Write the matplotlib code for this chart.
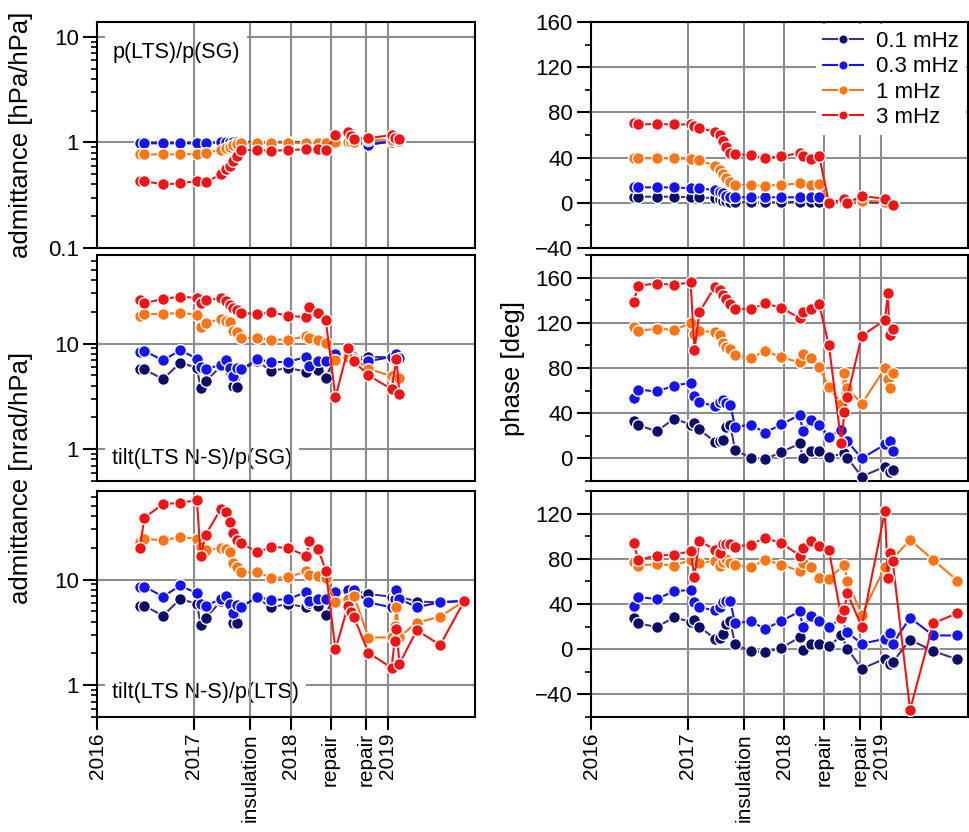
import numpy as np
import matplotlib
matplotlib.use('Agg')
import matplotlib.pyplot as plt
from matplotlib.ticker import FixedLocator, FuncFormatter, LogLocator, NullFormatter, MultipleLocator

plt.rcParams['font.family'] = ['Liberation Sans', 'DejaVu Sans']

nan = np.nan

# epochs (decimal years)
dates = [2016.44, 2016.49, 2016.68, 2016.86, 2017.03, 2017.07, 2017.12, 2017.28,
         2017.33, 2017.37, 2017.40, 2017.44, 2017.49, 2017.65, 2017.80, 2017.97,
         2018.16, 2018.19, 2018.28, 2018.36, 2018.46, 2018.59, 2018.62, 2018.65,
         2018.80, 2019.04, 2019.07, 2019.09, 2019.12, 2019.30, 2019.54, 2019.79]

# p(LTS)/p(SG) admittance
ps_amp_01 = [0.99, 0.99, 0.99, 0.99, 0.99, nan, 0.99, 1.0, 1.0, 1.0, 1.0, 1.0, 1.0, 1.0, 1.0, 1.0,
             1.0, nan, 1.0, 1.0, 1.0, 1.02, 1.02, 1.0, 0.96, 1.02, nan, nan, 1.02, nan, nan, nan]
ps_amp_03 = [0.98, 0.98, 0.98, 0.98, 0.98, nan, 0.99, 1.0, 1.0, 1.0, 1.01, 1.01, 1.0, 1.0, 1.0, 1.0,
             1.0, nan, 1.0, 1.0, 1.0, 1.02, 1.02, 1.0, 0.95, 1.02, nan, nan, 1.02, nan, nan, nan]
ps_amp_1 = [0.77, 0.77, 0.77, 0.77, 0.78, nan, 0.80, 0.85, 0.88, 0.91, 0.94, 0.97, 0.98, 0.99, 0.99, 0.99,
            0.99, nan, 0.99, 0.99, 1.0, 1.0, 1.0, 1.0, 1.05, 1.05, nan, nan, 1.03, nan, nan, nan]
ps_amp_3 = [0.43, 0.43, 0.40, 0.41, 0.43, nan, 0.42, 0.50, 0.56, 0.60, 0.66, 0.75, 0.84, 0.85, 0.83, 0.85,
            0.86, nan, 0.86, 0.85, 1.17, 1.25, 1.14, 1.08, 1.10, 1.17, 1.10, nan, 1.08, nan, nan, nan]

# tilt(LTS N-S)/p(SG) admittance
tg_amp_01 = [5.8, 5.7, 4.6, 6.6, 5.9, 3.8, 4.4, 6.1, 6.3, 5.5, 4.0, 3.9, 5.6, 6.8, 5.5, 5.9,
             5.4, 6.2, 5.6, 4.7, 7.8, 7.6, nan, 7.5, 7.5, 7.4, nan, 7.6, 7.5, nan, nan, nan]
tg_amp_03 = [8.4, 8.5, 6.95, 8.65, 7.2, 6.0, 5.7, 6.3, 6.95, 5.9, 4.9, 5.9, 5.7, 7.1, 6.7, 6.7,
             7.5, 6.2, 6.8, 6.8, 7.9, 7.6, nan, 7.4, 6.8, 7.5, nan, 8.0, 7.3, nan, nan, nan]
tg_amp_1 = [18.4, 19.1, 19.1, 19.5, 18.8, 14.3, 15.7, 17.1, 16.5, 15.9, 13.3, 12.8, 11.3, 11.3, 10.9, 10.9,
            11.7, 11.3, 10.9, 10.2, 6.95, 7.5, nan, 7.2, 5.8, 4.9, nan, 4.6, 4.7, nan, nan, nan]
tg_amp_3 = [25.6, 24.2, 26.4, 27.9, 27.0, 24.2, 25.6, 27.0, 25.5, 23.3, 21.7, 20.6, 19.5, 19.1, 19.7, 18.4,
            17.7, 22.2, 19.5, 16.8, 3.1, 9.0, nan, 6.8, 5.0, 3.7, nan, 7.2, 3.3, nan, nan, nan]

# tilt(LTS N-S)/p(LTS) admittance
tl_amp_01 = [5.65, 5.65, 4.55, 6.55, 5.9, 3.75, 4.3, 6.3, 6.5, 5.9, 3.9, 3.85, 5.65, 6.7, 5.45, 5.9,
             5.45, 6.0, 5.65, 4.65, 7.7, 8.0, nan, 7.9, 7.3, 6.9, 7.0, 7.5, 6.9, 6.2, 6.1, 6.3]
tl_amp_03 = [8.6, 8.6, 6.9, 8.8, 7.4, 5.9, 5.65, 6.55, 7.05, 5.9, 4.8, 5.8, 5.45, 6.9, 6.4, 6.55,
             7.6, 6.3, 6.55, 6.55, 7.6, 7.9, nan, 7.9, 6.1, 5.45, 6.5, 8.0, 6.55, 5.5, 6.1, 6.3]
tl_amp_1 = [22.6, 24.4, 23.5, 25.3, 24.4, 20.3, 18.9, 20.0, 19.5, 18.2, 14.3, 13.3, 11.7, 11.7, 10.4, 10.5,
            12.0, 11.0, 10.9, 10.4, 6.2, 6.55, nan, 7.05, 2.82, 2.85, 3.6, 5.45, 2.87, 3.92, 4.45, 6.3]
tl_amp_3 = [19.9, 38.7, 51.8, 53.4, 56.5, 16.9, 26.6, 47.1, 43.8, 35.2, 27.6, 23.5, 22.2, 18.2, 20.3, 20.1,
            16.6, 23.2, 19.6, 12.2, 2.19, 5.65, 4.9, 4.45, 2.03, 1.46, 2.62, 3.39, 1.6, 3.32, 2.4, 6.3]

# phases [deg]
ps_ph_01 = [5.4, 5.4, 5.4, 5.4, 5.0, nan, 4.9, 4.0, 3.0, 2.0, 1.5, 1.0, 0.5, 0.5, 0.5, 0.5,
            1.0, nan, 1.0, 1.0, 0.5, nan, 0.5, 0.0, 1.0, 0.0, nan, nan, -2.0, nan, nan, nan]
ps_ph_03 = [13.7, 13.7, 13.7, 13.7, 12.8, nan, 12.8, 11.3, 10.0, 8.5, 6.0, 4.9, 4.9, 4.9, 4.9, 4.9,
            4.9, nan, 4.9, 4.9, 1.0, nan, 1.0, 0.5, 1.5, 0.0, nan, nan, -1.0, nan, nan, nan]
ps_ph_1 = [39.4, 39.4, 39.4, 39.4, 38.8, nan, 37.9, 32.6, 29.0, 25.5, 21.7, 18.8, 15.8, 15.8, 15.2, 15.8,
           17.3, nan, 16.0, 16.7, 1.0, nan, 1.0, 0.0, 2.0, 1.0, nan, nan, -1.0, nan, nan, nan]
ps_ph_3 = [70.3, 69.4, 69.7, 69.4, 69.4, 68.0, 65.9, 63.0, 60.0, 55.0, 49.0, 44.0, 42.9, 42.3, 39.4, 41.4,
           43.8, 41.4, 38.5, 41.4, 0.1, nan, 3.1, 0.0, 6.0, 3.6, nan, nan, -2.0, nan, nan, nan]

tg_ph_01 = [32.8, 29.3, 24.0, 35.2, 29.9, 31.6, 25.8, 14.6, 15.2, 16.1, 28.0, 29.9, 7.3, 0.6, -0.6, 5.5,
            13.2, 0.6, 6.4, 6.4, 1.5, nan, 4.4, 0.6, -16.1, -7.3, nan, -11.7, -10.3, nan, nan, nan]
tg_ph_03 = [53.4, 60.9, 59.2, 64.5, 66.8, 55.1, 49.8, 46.3, 49.8, 51.6, 49.2, 47.5, 27.8, 29.9, 22.9, 30.0,
            38.7, 24.0, 33.7, 29.9, 19.1, 25.0, nan, 15.2, 0.0, 12.3, nan, 15.2, 6.4, nan, nan, nan]
tg_ph_1 = [116.6, 112.8, 114.8, 113.7, 119.6, 109.9, 112.8, 111.9, 109.0, 102.0, 99.0, 96.7, 91.4, 88.5, 95.2, 89.4,
           85.0, 92.4, 88.5, 80.6, 63.0, 48.4, 75.6, 62.2, 48.4, 79.7, 70.3, 62.2, 75.6, nan, nan, nan]
tg_ph_3 = [138.6, 153.0, 154.7, 153.6, 155.9, 95.8, 129.5, 151.8, 148.9, 145.0, 140.7, 136.3, 132.5, 131.9, 137.1, 133.3,
           124.0, 129.5, 132.5, 136.3, 100.2, 13.2, 41.0, 54.2, 108.4, 122.5, 146.0, 109.0, 114.3, nan, nan, nan]

tl_ph_01 = [27.8, 23.0, 19.5, 28.4, 24.0, 26.0, 20.1, 9.3, 10.2, 13.1, 22.6, 24.8, 4.2, -1.7, -2.6, 1.2,
            10.7, -1.0, 4.8, 4.8, 2.5, 12.2, nan, 0.6, -17.3, -8.4, nan, -13.0, -11.4, 8.4, -1.7, -9.0]
tl_ph_03 = [38.7, 46.0, 44.5, 51.3, 52.5, 41.5, 37.2, 34.3, 37.8, 41.5, 42.5, 42.5, 23.0, 24.8, 18.0, 25.0,
            33.6, 20.0, 29.0, 24.8, 20.1, 26.9, nan, 15.1, 4.8, 9.3, nan, 14.2, 4.8, 27.8, 12.2, 12.2]
tl_ph_1 = [77.0, 74.0, 75.5, 74.0, 79.0, nan, 76.0, 78.5, 74.0, 77.0, 80.0, 76.0, 74.9, 72.6, 79.0, 74.9,
           69.0, 76.0, 72.6, 63.2, 62.3, nan, 74.9, 60.8, 30.7, 72.6, nan, nan, nan, 96.8, 79.0, 60.8]
tl_ph_3 = [93.8, 79.0, 82.9, 83.8, 86.7, 64.3, 96.1, 87.9, 85.0, 93.0, 93.0, 93.0, 90.8, 92.6, 98.5, 93.8,
           82.9, 89.7, 95.5, 91.7, 87.9, 27.8, 34.9, 49.6, 20.1, 122.0, 63.2, 84.9, 77.8, -53.6, 23.0, 31.9]

freqs = ['0.1 mHz', '0.3 mHz', '1 mHz', '3 mHz']
line_colors = ['#4a2c80', '#1414ee', '#ff7414', '#f01414']
face_colors = ['#0c0c6a', '#1414ee', '#ff7414', '#f01414']

event_ticks = [2016, 2017, 2017.58, 2018, 2018.41, 2018.78, 2019]
event_labels = ['2016', '2017', 'insulation', '2018', 'repair', 'repair', '2019']

grid_col = '#8c8c8c'
tick_fs = 16

fig = plt.figure(figsize=(9.7, 8.32), dpi=100)

row_bottoms = [0.7019, 0.4219, 0.1382]
h = 0.2716
axes_l = [fig.add_axes([0.1, b, 0.3897, h]) for b in row_bottoms]
axes_r = [fig.add_axes([0.6093, b, 0.3887, h]) for b in row_bottoms]

amp_sets = [[ps_amp_01, ps_amp_03, ps_amp_1, ps_amp_3],
            [tg_amp_01, tg_amp_03, tg_amp_1, tg_amp_3],
            [tl_amp_01, tl_amp_03, tl_amp_1, tl_amp_3]]
ph_sets = [[ps_ph_01, ps_ph_03, ps_ph_1, ps_ph_3],
           [tg_ph_01, tg_ph_03, tg_ph_1, tg_ph_3],
           [tl_ph_01, tl_ph_03, tl_ph_1, tl_ph_3]]
panel_names = ['p(LTS)/p(SG)', 'tilt(LTS N-S)/p(SG)', 'tilt(LTS N-S)/p(LTS)']
name_y = [0.867, 0.10, 0.11]


def draw(ax, series):
    t = np.array(dates)
    for vals, lc, fc, lab in zip(series, line_colors, face_colors, freqs):
        v = np.array(vals)
        m = ~np.isnan(v)
        ax.plot(t[m], v[m], '-o', color=lc, mfc=fc, mec='white', mew=1.0,
                ms=8.5, lw=1.5, label=lab, zorder=3)


def style(ax, bottom_row):
    ax.set_xlim(2016, 2019.9)
    ax.set_axisbelow(True)
    ax.yaxis.grid(True, which='major', color=grid_col, lw=1.5)
    for x in event_ticks[1:]:
        ax.axvline(x, color=grid_col, lw=1.5, zorder=1.5)
    for s in ax.spines.values():
        s.set_linewidth(1.5)
    ax.tick_params(axis='y', which='major', direction='out', length=10, width=1.5,
                   labelsize=tick_fs, pad=3, right=False)
    ax.tick_params(axis='y', which='minor', direction='out', length=4.5, width=1.2, right=False)
    ax.set_xticks(event_ticks)
    ax.xaxis.set_minor_locator(FixedLocator([]))
    if bottom_row:
        ax.set_xticklabels(event_labels, rotation=90)
        ax.tick_params(axis='x', direction='out', length=9.5, width=1.5, labelsize=15,
                       pad=2, top=False)
    else:
        ax.tick_params(axis='x', bottom=False, labelbottom=False, top=False)


for i, ax in enumerate(axes_l):
    draw(ax, amp_sets[i])
    ax.set_yscale('log')
    if i == 0:
        ax.set_ylim(0.1, 13.8)
        ax.yaxis.set_major_locator(FixedLocator([0.1, 1, 10]))
    else:
        ax.set_ylim(0.5, 69)
        ax.yaxis.set_major_locator(FixedLocator([1, 10]))
    ax.yaxis.set_major_formatter(FuncFormatter(lambda v, p: '%g' % v))
    ax.yaxis.set_minor_locator(LogLocator(base=10, subs=range(2, 10)))
    ax.yaxis.set_minor_formatter(NullFormatter())
    style(ax, i == 2)
    ax.text(0.04, name_y[i], panel_names[i], transform=ax.transAxes, fontsize=15.5,
            ha='left', va='center', zorder=1.2,
            bbox=dict(facecolor='white', edgecolor='none', pad=5))

ph_lims = [(-40, 160), (-20, 180), (-60, 140)]
for i, ax in enumerate(axes_r):
    draw(ax, ph_sets[i])
    ax.set_ylim(*ph_lims[i])
    ax.yaxis.set_major_locator(MultipleLocator(40))
    ax.yaxis.set_minor_locator(MultipleLocator(20))
    style(ax, i == 2)

leg = axes_r[0].legend(loc='upper right', frameon=True, facecolor='white', edgecolor='none',
                       fancybox=False, framealpha=1, fontsize=16, borderaxespad=0.1,
                       handlelength=1.8, labelspacing=0.2, borderpad=0.3, markerscale=0.8,
                       handletextpad=0.6)
leg.set_zorder(5)

fig.text(0.022, 1 - 135 / 832, 'admittance [hPa/hPa]', rotation=90, ha='center', va='center', fontsize=18.5)
fig.text(0.022, 1 - 478 / 832, 'admittance [nrad/hPa]', rotation=90, ha='center', va='center', fontsize=18.5)
fig.text(0.529, 1 - 368 / 832, 'phase [deg]', rotation=90, ha='center', va='center', fontsize=18.5)

fig.savefig('out.png', dpi=100)
